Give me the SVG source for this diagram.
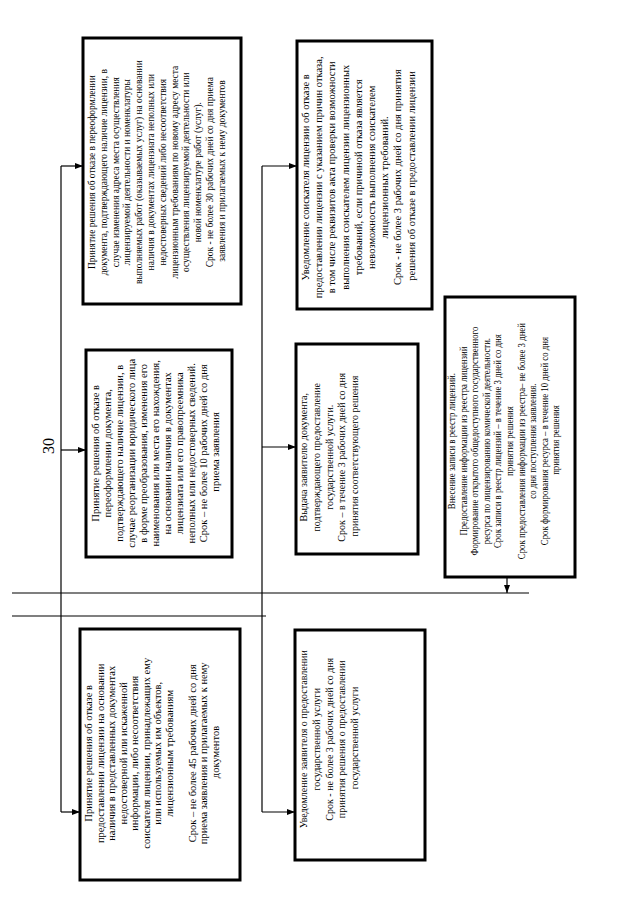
<svg xmlns="http://www.w3.org/2000/svg" width="640" height="905" viewBox="0 0 640 905">
<style>
.box{fill:#fff;stroke:#000;stroke-width:3}
.ln{fill:none;stroke:#000;stroke-width:1.2}
.t{font-family:"Liberation Serif","Times New Roman",serif;fill:#000;text-anchor:middle}
</style>
<defs>
<marker id="ah" markerUnits="userSpaceOnUse" markerWidth="8" markerHeight="6" refX="8" refY="3" orient="auto">
<path d="M0,0 L8,3 L0,6 z" fill="#000"/>
</marker>
</defs>
<rect width="640" height="905" fill="#fff"/>
<g id="connectors">
<line class="ln" x1="61" y1="166" x2="61" y2="812"/>
<line class="ln" x1="61" y1="166" x2="83" y2="166" marker-end="url(#ah)"/>
<line class="ln" x1="61" y1="450" x2="86" y2="450" marker-end="url(#ah)"/>
<line class="ln" x1="61" y1="812" x2="80" y2="812" marker-end="url(#ah)"/>
<line class="ln" x1="262" y1="166" x2="262" y2="812"/>
<line class="ln" x1="262" y1="166" x2="297" y2="166" marker-end="url(#ah)"/>
<line class="ln" x1="262" y1="447" x2="296" y2="447" marker-end="url(#ah)"/>
<line class="ln" x1="262" y1="812" x2="295" y2="812" marker-end="url(#ah)"/>
<line class="ln" x1="12" y1="593" x2="529" y2="593"/>
<line class="ln" x1="12" y1="616" x2="266" y2="616"/>
<line class="ln" x1="507" y1="578" x2="507" y2="593" marker-end="url(#ah)"/>
</g>
<g id="label30">
<text class="t" font-size="16" transform="translate(54,446) rotate(-90)">30</text>
</g>
<g id="nodeA">
<rect class="box" x="83" y="38" width="158" height="266"/>
<text class="t" font-size="11" transform="translate(83,171) rotate(-90) scale(0.86,1)">
<tspan x="0" y="12">Принятие решения об отказе в переоформлении</tspan>
<tspan x="0" y="23.8">документа, подтверждающего наличие лицензии, в</tspan>
<tspan x="0" y="35.6">случае изменения адреса места осуществления</tspan>
<tspan x="0" y="47.4">лицензируемой деятельности и номенклатуры</tspan>
<tspan x="0" y="59.2">выполняемых работ (оказываемых услуг) на основании</tspan>
<tspan x="0" y="71">наличия в документах лицензиата неполных или</tspan>
<tspan x="0" y="82.8">недостоверных сведений либо несоответствия</tspan>
<tspan x="0" y="94.6">лицензионным требованиям по новому адресу места</tspan>
<tspan x="0" y="106.4">осуществления лицензируемой деятельности или</tspan>
<tspan x="0" y="118.2">новой номенклатуре работ (услуг).</tspan>
<tspan x="0" y="130">Срок - не более 30 рабочих дней со дня приема</tspan>
<tspan x="0" y="141.8">заявления и прилагаемых к нему документов</tspan>
</text>
</g>
<g id="nodeB">
<rect class="box" x="86" y="350" width="146" height="207"/>
<text class="t" font-size="10.5" transform="translate(86,452) rotate(-90)">
<tspan x="0" y="13">Принятие решения об отказе в</tspan>
<tspan x="0" y="25">переоформлении документа,</tspan>
<tspan x="0" y="37">подтверждающего наличие лицензии, в</tspan>
<tspan x="0" y="49">случае реорганизации юридического лица</tspan>
<tspan x="0" y="61">в форме преобразования, изменения его</tspan>
<tspan x="0" y="73">наименования или места его нахождения,</tspan>
<tspan x="0" y="85">на основании наличия в документах</tspan>
<tspan x="0" y="97">лицензиата или его правопреемника</tspan>
<tspan x="0" y="109">неполных или недостоверных сведений.</tspan>
<tspan x="0" y="121">Срок – не более 10 рабочих дней со дня</tspan>
<tspan x="0" y="133">приема заявления</tspan>
</text>
</g>
<g id="nodeC">
<rect class="box" x="80" y="629" width="160" height="251"/>
<text class="t" font-size="10.5" transform="translate(80,752) rotate(-90)">
<tspan x="0" y="12">Принятие решения об отказе в</tspan>
<tspan x="0" y="23.5">предоставлении лицензии на основании</tspan>
<tspan x="0" y="35">наличия в представленных документах</tspan>
<tspan x="0" y="46.5">недостоверной или искаженной</tspan>
<tspan x="0" y="58">информации, либо несоответствия</tspan>
<tspan x="0" y="69.5">соискателя лицензии, принадлежащих ему</tspan>
<tspan x="0" y="81">или используемых им объектов,</tspan>
<tspan x="0" y="92.5">лицензионным требованиям</tspan>
<tspan x="0" y="115.5">Срок – не более 45 рабочих дней со дня</tspan>
<tspan x="0" y="127">приема заявления и прилагаемых к нему</tspan>
<tspan x="0" y="138.5">документов</tspan>
</text>
</g>
<g id="nodeD">
<rect class="box" x="297" y="41" width="135" height="268"/>
<text class="t" font-size="10.5" transform="translate(297,176) rotate(-90)">
<tspan x="0" y="12">Уведомление соискателя лицензии об отказе в</tspan>
<tspan x="0" y="25.2">предоставлении лицензии с указанием причин отказа,</tspan>
<tspan x="0" y="38.4">в том числе реквизитов акта проверки возможности</tspan>
<tspan x="0" y="51.6">выполнения соискателем лицензии лицензионных</tspan>
<tspan x="0" y="64.8">требований, если причиной отказа является</tspan>
<tspan x="0" y="78">невозможность выполнения соискателем</tspan>
<tspan x="0" y="91.2">лицензионных требований.</tspan>
<tspan x="0" y="104.4">Срок - не более 3 рабочих дней со дня принятия</tspan>
<tspan x="0" y="117.6">решения об отказе в предоставлении лицензии</tspan>
</text>
</g>
<g id="nodeE">
<rect class="box" x="296" y="344" width="122" height="210"/>
<text class="t" font-size="10" transform="translate(296,456) rotate(-90)">
<tspan x="0" y="11">Выдача заявителю документа,</tspan>
<tspan x="0" y="23.8">подтверждающего предоставление</tspan>
<tspan x="0" y="36.6">государственной услуги.</tspan>
<tspan x="0" y="49.4">Срок – в течение 3 рабочих дней со дня</tspan>
<tspan x="0" y="62.2">принятия соответствующего решения</tspan>
</text>
</g>
<g id="nodeF">
<rect class="box" x="295" y="630" width="130" height="230"/>
<text class="t" font-size="10" transform="translate(295,738) rotate(-90)">
<tspan x="0" y="12">Уведомление заявителя о предоставлении</tspan>
<tspan x="0" y="24.8">государственной услуги</tspan>
<tspan x="0" y="37.6">Срок - не более 3 рабочих дней со дня</tspan>
<tspan x="0" y="50.4">принятия решения о предоставлении</tspan>
<tspan x="0" y="63.2">государственной услуги</tspan>
</text>
</g>
<g id="nodeG">
<rect class="box" x="445" y="297" width="130" height="280"/>
<text class="t" font-size="10" transform="translate(445,440) rotate(-90) scale(0.88,1)">
<tspan x="0" y="10">Внесение записи в реестр лицензий.</tspan>
<tspan x="0" y="21.6">Предоставление информации из реестра лицензий</tspan>
<tspan x="0" y="33.2">Формирование открытого общедоступного государственного</tspan>
<tspan x="0" y="44.8">ресурса по лицензированию комической деятельности.</tspan>
<tspan x="0" y="56.4">Срок записи в реестр лицензий – в течение 3 дней со дня</tspan>
<tspan x="0" y="68">принятия решения</tspan>
<tspan x="0" y="79.6">Срок предоставления информации из реестра– не более 3 дней</tspan>
<tspan x="0" y="91.2">со дня поступления заявления.</tspan>
<tspan x="0" y="102.8">Срок формирования ресурса – в течение 10 дней со дня</tspan>
<tspan x="0" y="114.4">принятия решения</tspan>
</text>
</g>
</svg>
